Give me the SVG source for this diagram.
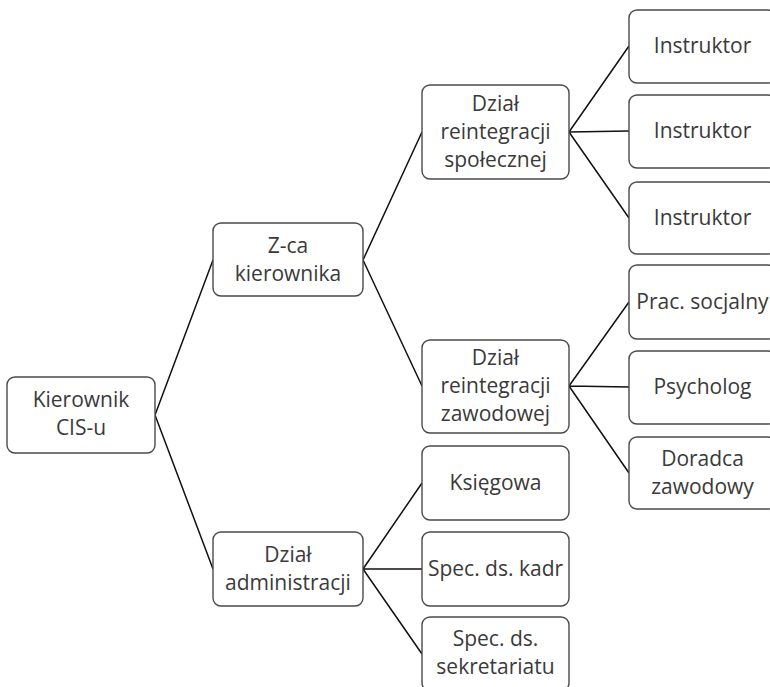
<svg xmlns="http://www.w3.org/2000/svg" width="770" height="687" viewBox="0 0 770 687">
<style>
.box{fill:#fff;stroke:#4a4a4a;stroke-width:1.4}
.t{font-family:"Open Sans","Noto Sans",sans-serif;font-size:21px;fill:#3a3a3a;text-anchor:middle}
.c{stroke:#111;stroke-width:1.5;fill:none}
</style>
<rect width="770" height="687" fill="#fff"/>
<g id="connectors">
<path class="c" d="M155,415 L213,260 M155,415 L213,569"/>
<path class="c" d="M363,260 L422,132 M363,260 L422,386"/>
<path class="c" d="M363,569 L422,483 M363,569 L422,569 M363,569 L422,654"/>
<path class="c" d="M569,132 L629,46 M569,132 L629,131 M569,132 L629,218"/>
<path class="c" d="M569,386 L629,302 M569,386 L629,387 M569,386 L629,473"/>
</g>
<g id="kierownik"><rect class="box" x="7" y="377" width="148" height="76" rx="8"/><text class="t" x="81" y="407">Kierownik</text><text class="t" x="81" y="435">CIS-u</text></g>
<g id="zca"><rect class="box" x="213" y="223" width="150" height="73" rx="8"/><text class="t" x="288" y="253">Z-ca</text><text class="t" x="288" y="281">kierownika</text></g>
<g id="administracja"><rect class="box" x="213" y="532" width="150" height="74" rx="8"/><text class="t" x="288" y="562">Dział</text><text class="t" x="288" y="590">administracji</text></g>
<g id="spoleczna"><rect class="box" x="422" y="85" width="147" height="94" rx="8"/><text class="t" x="495.5" y="111">Dział</text><text class="t" x="495.5" y="139">reintegracji</text><text class="t" x="495.5" y="167">społecznej</text></g>
<g id="zawodowa"><rect class="box" x="422" y="340" width="147" height="93" rx="8"/><text class="t" x="495.5" y="365">Dział</text><text class="t" x="495.5" y="393">reintegracji</text><text class="t" x="495.5" y="421">zawodowej</text></g>
<g id="ksiegowa"><rect class="box" x="422" y="446" width="147" height="74" rx="8"/><text class="t" x="495.5" y="490">Księgowa</text></g>
<g id="kadry"><rect class="box" x="422" y="532" width="147" height="74" rx="8"/><text class="t" x="495.5" y="576">Spec. ds. kadr</text></g>
<g id="sekretariat"><rect class="box" x="422" y="617" width="147" height="74" rx="8"/><text class="t" x="495.5" y="646">Spec. ds.</text><text class="t" x="495.5" y="674">sekretariatu</text></g>
<g id="instruktor1"><rect class="box" x="629" y="10" width="147" height="73" rx="8"/><text class="t" x="702.5" y="53">Instruktor</text></g>
<g id="instruktor2"><rect class="box" x="629" y="95" width="147" height="73" rx="8"/><text class="t" x="702.5" y="138">Instruktor</text></g>
<g id="instruktor3"><rect class="box" x="629" y="182" width="147" height="72" rx="8"/><text class="t" x="702.5" y="225">Instruktor</text></g>
<g id="pracownik"><rect class="box" x="629" y="265" width="147" height="74" rx="8"/><text class="t" x="702.5" y="309">Prac. socjalny</text></g>
<g id="psycholog"><rect class="box" x="629" y="351" width="147" height="73" rx="8"/><text class="t" x="702.5" y="394">Psycholog</text></g>
<g id="doradca"><rect class="box" x="629" y="437" width="147" height="72" rx="8"/><text class="t" x="702.5" y="466">Doradca</text><text class="t" x="702.5" y="494">zawodowy</text></g>
</svg>
